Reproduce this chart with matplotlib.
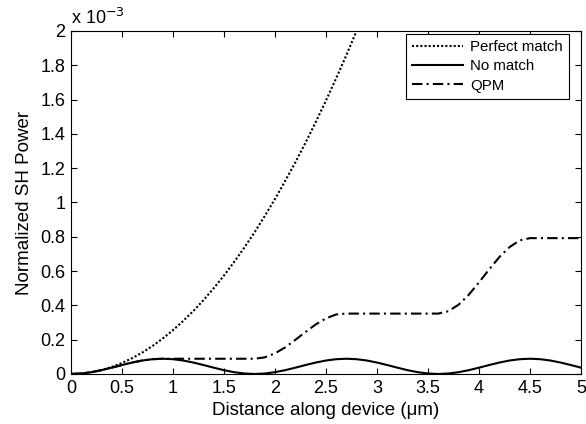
import numpy as np
import matplotlib
matplotlib.use("Agg")
import matplotlib.pyplot as plt

plt.rcParams['font.family'] = ['Liberation Sans', 'DejaVu Sans']
plt.rcParams['font.size'] = 13

# distance (um) and normalized SH power (x 1e-3)
x = [0.0, 0.1, 0.2, 0.3, 0.4, 0.5, 0.6, 0.7, 0.8, 0.9,
     1.0, 1.1, 1.2, 1.3, 1.4, 1.5, 1.6, 1.7, 1.8, 1.9,
     2.0, 2.1, 2.2, 2.3, 2.4, 2.5, 2.6, 2.7, 2.8, 2.9,
     3.0, 3.1, 3.2, 3.3, 3.4, 3.5, 3.6, 3.7, 3.8, 3.9,
     4.0, 4.1, 4.2, 4.3, 4.4, 4.5, 4.6, 4.7, 4.8, 4.9, 5.0]

x_perfect = x[:30]
perfect = [0.0, 0.0026, 0.0102, 0.023, 0.041, 0.064, 0.092, 0.125, 0.163, 0.207,
           0.255, 0.309, 0.367, 0.431, 0.500, 0.574, 0.653, 0.737, 0.826, 0.921,
           1.020, 1.125, 1.234, 1.349, 1.469, 1.594, 1.724, 1.859, 2.000, 2.145]

nomatch = [0.0, 0.0027, 0.0104, 0.0222, 0.0367, 0.0521, 0.0666, 0.0785, 0.0861, 0.0888,
           0.0861, 0.0785, 0.0666, 0.0521, 0.0367, 0.0222, 0.0104, 0.0027, 0.0, 0.0027,
           0.0104, 0.0222, 0.0367, 0.0521, 0.0666, 0.0785, 0.0861, 0.0888, 0.0861, 0.0785,
           0.0666, 0.0521, 0.0367, 0.0222, 0.0104, 0.0027, 0.0, 0.0027, 0.0104, 0.0222,
           0.0367, 0.0521, 0.0666, 0.0785, 0.0861, 0.0888, 0.0861, 0.0785, 0.0666, 0.0521, 0.0367]

qpm = [0.0, 0.0027, 0.0104, 0.0222, 0.0367, 0.0521, 0.0666, 0.0785, 0.0861, 0.0888,
       0.0888, 0.0888, 0.0888, 0.0888, 0.0888, 0.0888, 0.0888, 0.0888, 0.0888, 0.0968,
       0.120, 0.155, 0.199, 0.245, 0.289, 0.324, 0.347, 0.352, 0.352, 0.352,
       0.352, 0.352, 0.352, 0.352, 0.352, 0.352, 0.352, 0.366, 0.404, 0.462,
       0.534, 0.610, 0.682, 0.740, 0.779, 0.792, 0.792, 0.792, 0.792, 0.792, 0.792]

fig = plt.figure(figsize=(5.86, 4.24), dpi=100)
ax = fig.add_axes([0.121, 0.118, 0.8705, 0.809])

ax.plot(x_perfect, perfect, color='k', lw=1.5, linestyle=(0, (1, 1)), label='Perfect match')
ax.plot(x, nomatch, color='k', lw=1.5, linestyle='-', label='No match')
ax.plot(x, qpm, color='k', lw=1.5, linestyle=(0, (5, 2, 1, 2)), label='QPM')

ax.set_xlim(0, 5)
ax.set_ylim(0, 2)
ax.set_xticks(np.arange(0, 5.01, 0.5))
ax.set_yticks(np.arange(0, 2.01, 0.2))
ax.set_xticklabels(['%g' % v for v in np.arange(0, 5.01, 0.5)])
ax.set_yticklabels(['%g' % round(v, 1) for v in np.arange(0, 2.01, 0.2)])
ax.tick_params(direction='in', top=True, right=True, length=4, width=0.8,
               labelsize=13, pad=4)
for s in ax.spines.values():
    s.set_linewidth(0.8)

ax.text(0.0, 1.008, r'x 10$^{-3}$', transform=ax.transAxes, fontsize=13,
        ha='left', va='bottom')

ax.set_xlabel('Distance along device (\u03bcm)', fontsize=13.5, labelpad=4)
ax.set_ylabel('Normalized SH Power', fontsize=13.5, labelpad=5)

leg = ax.legend(loc='upper right', bbox_to_anchor=(0.976, 0.991), borderaxespad=0,
                fancybox=False, framealpha=1, edgecolor='k', handlelength=3.4,
                handletextpad=0.5, labelspacing=0.35, borderpad=0.4, fontsize=10.8)
leg.get_frame().set_linewidth(0.8)

fig.savefig('out.png', dpi=100)
